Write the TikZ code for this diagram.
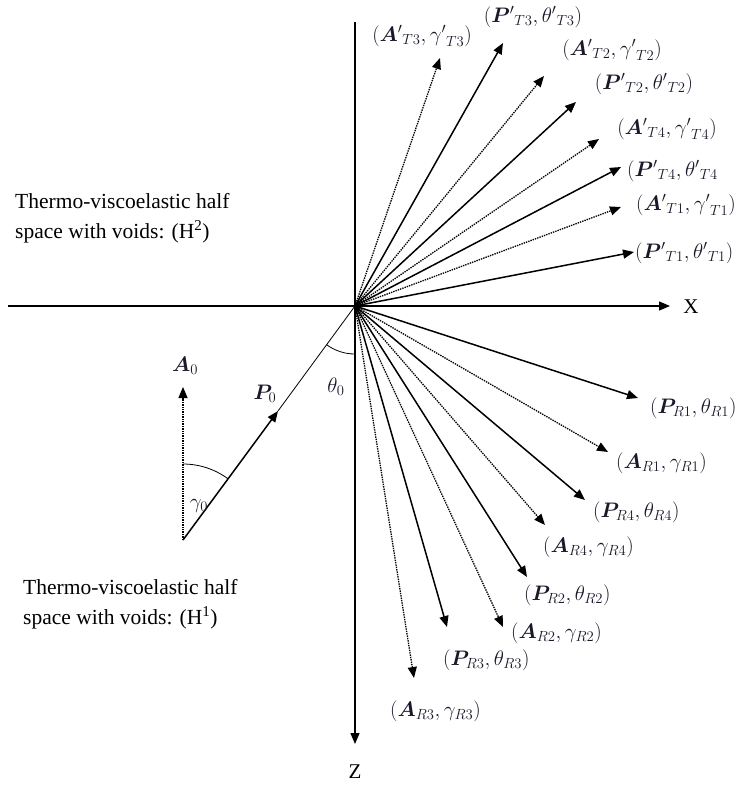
\RequirePackage{fix-cm}
\documentclass[tikz,border=0pt]{standalone}
\usepackage{fontspec}
\setmainfont{Liberation Serif}
\usepackage{bm}
\usetikzlibrary{arrows.meta}
\definecolor{lab}{rgb}{0.1,0.1,0.16}
\tikzset{
  x=1pt, y=-1pt,
  axis/.style={line width=1.4pt, -{Triangle[length=11pt,width=9pt]}},
  solidray/.style={line width=1.5pt, -{Triangle[length=11pt,width=9pt]}},
  dotray/.style={line width=1.3pt, dash pattern=on 1.4pt off 1.0pt, -{Triangle[length=11pt,width=9pt]}},
  lbl/.style={font=\fontsize{21}{23}\selectfont, text=lab, inner sep=0pt},
  txt/.style={font=\fontsize{21.5}{30}\selectfont, align=left, inner sep=0pt, anchor=west},
  axlbl/.style={font=\fontsize{21}{24}\selectfont, inner sep=0pt}
}
\begin{document}
\begin{tikzpicture}
\useasboundingbox (0,0) rectangle (739,787);
% origin and axes
\coordinate (O) at (355,306);
\coordinate (xl) at (8,306);
\coordinate (xr) at (670,306);
\coordinate (zt) at (355,22);
\coordinate (zb) at (355,744);
\draw[line width=1.4pt] (xl) -- (O);
\draw[axis] (O) -- (xr);
\draw[line width=1.4pt] (zt) -- (O);
\draw[axis] (O) -- (zb);
\node[axlbl] (X) at (691,307) {X};
\node[axlbl] (Z) at (355,772) {Z};

% half-space texts
\node[txt] (H2) at (15,218) {Thermo-viscoelastic half\\space with voids: (H\textsuperscript{2})};
\node[txt] (H1) at (23,604) {Thermo-viscoelastic half\\space with voids: (H\textsuperscript{1})};

% incident waves
\coordinate (S) at (183,540);
\coordinate (P0tip) at (278,411);
\coordinate (A0tip) at (183,387);
\draw[line width=0.8pt] (P0tip) -- (O);
\draw[solidray] (S) -- (P0tip);
\draw[dotray] (S) -- (A0tip);
\node[lbl] (A0) at (185,366) {$\bm{A}_0$};
\node[lbl] (P0) at (265,394) {$\bm{P}_0$};
\node[lbl] (th0) at (336,387) {$\theta_0$};
\node[lbl] (g0) at (199,506) {$\gamma_0$};
\draw[line width=0.8pt] (O) ++(126.3:48) arc[start angle=126.3, end angle=90, radius=48];
\draw[line width=0.8pt] (S) ++(-90:76) arc[start angle=-90, end angle=-53.7, radius=76];

% transmitted waves
\coordinate (tAT3) at (440,58);
\coordinate (tPT3) at (503,43);
\coordinate (tAT2) at (544,76);
\coordinate (tPT2) at (576,102);
\coordinate (tAT4) at (599,139);
\coordinate (tPT4) at (621,167);
\coordinate (tAT1) at (621,207);
\coordinate (tPT1) at (634,252);
\draw[dotray] (O) -- (tAT3);
\draw[solidray] (O) -- (tPT3);
\draw[dotray] (O) -- (tAT2);
\draw[solidray] (O) -- (tPT2);
\draw[dotray] (O) -- (tAT4);
\draw[solidray] (O) -- (tPT4);
\draw[dotray] (O) -- (tAT1);
\draw[solidray] (O) -- (tPT1);
\node[lbl] (lAT3) at (422,36) {$({\bm{A}'}_{T3},{\gamma'}_{T3})$};
\node[lbl] (lPT3) at (533,17) {$({\bm{P}'}_{T3},{\theta'}_{T3})$};
\node[lbl] (lAT2) at (612,50) {$({\bm{A}'}_{T2},{\gamma'}_{T2})$};
\node[lbl] (lPT2) at (644,84) {$({\bm{P}'}_{T2},{\theta'}_{T2})$};
\node[lbl] (lAT4) at (667,129) {$({\bm{A}'}_{T4},{\gamma'}_{T4})$};
\node[lbl, anchor=west] (lPT4) at (627,171) {$({\bm{P}'}_{T4},{\theta'}_{T4}$};
\node[lbl, anchor=west] (lAT1) at (636,205) {$({\bm{A}'}_{T1},{\gamma'}_{T1})$};
\node[lbl, anchor=west] (lPT1) at (635,253) {$({\bm{P}'}_{T1},{\theta'}_{T1})$};

% reflected waves
\coordinate (tPR1) at (638,398);
\coordinate (tAR1) at (608,452);
\coordinate (tPR4) at (585,500);
\coordinate (tAR4) at (545,525);
\coordinate (tPR2) at (527,577);
\coordinate (tAR2) at (503,627);
\coordinate (tPR3) at (447,627);
\coordinate (tAR3) at (414,678);
\draw[solidray] (O) -- (tPR1);
\draw[dotray] (O) -- (tAR1);
\draw[solidray] (O) -- (tPR4);
\draw[dotray] (O) -- (tAR4);
\draw[solidray] (O) -- (tPR2);
\draw[dotray] (O) -- (tAR2);
\draw[solidray] (O) -- (tPR3);
\draw[dotray] (O) -- (tAR3);
\node[lbl, anchor=west] (lPR1) at (650,408) {$(\bm{P}_{R1},\theta_{R1})$};
\node[lbl, anchor=west] (lAR1) at (616,463) {$(\bm{A}_{R1},\gamma_{R1})$};
\node[lbl, anchor=west] (lPR4) at (593,512) {$(\bm{P}_{R4},\theta_{R4})$};
\node[lbl, anchor=west] (lAR4) at (543,547) {$(\bm{A}_{R4},\gamma_{R4})$};
\node[lbl, anchor=west] (lPR2) at (524,595) {$(\bm{P}_{R2},\theta_{R2})$};
\node[lbl, anchor=west] (lAR2) at (511,633) {$(\bm{A}_{R2},\gamma_{R2})$};
\node[lbl, anchor=west] (lPR3) at (443,660) {$(\bm{P}_{R3},\theta_{R3})$};
\node[lbl, anchor=west] (lAR3) at (390,711) {$(\bm{A}_{R3},\gamma_{R3})$};
\end{tikzpicture}
\end{document}
